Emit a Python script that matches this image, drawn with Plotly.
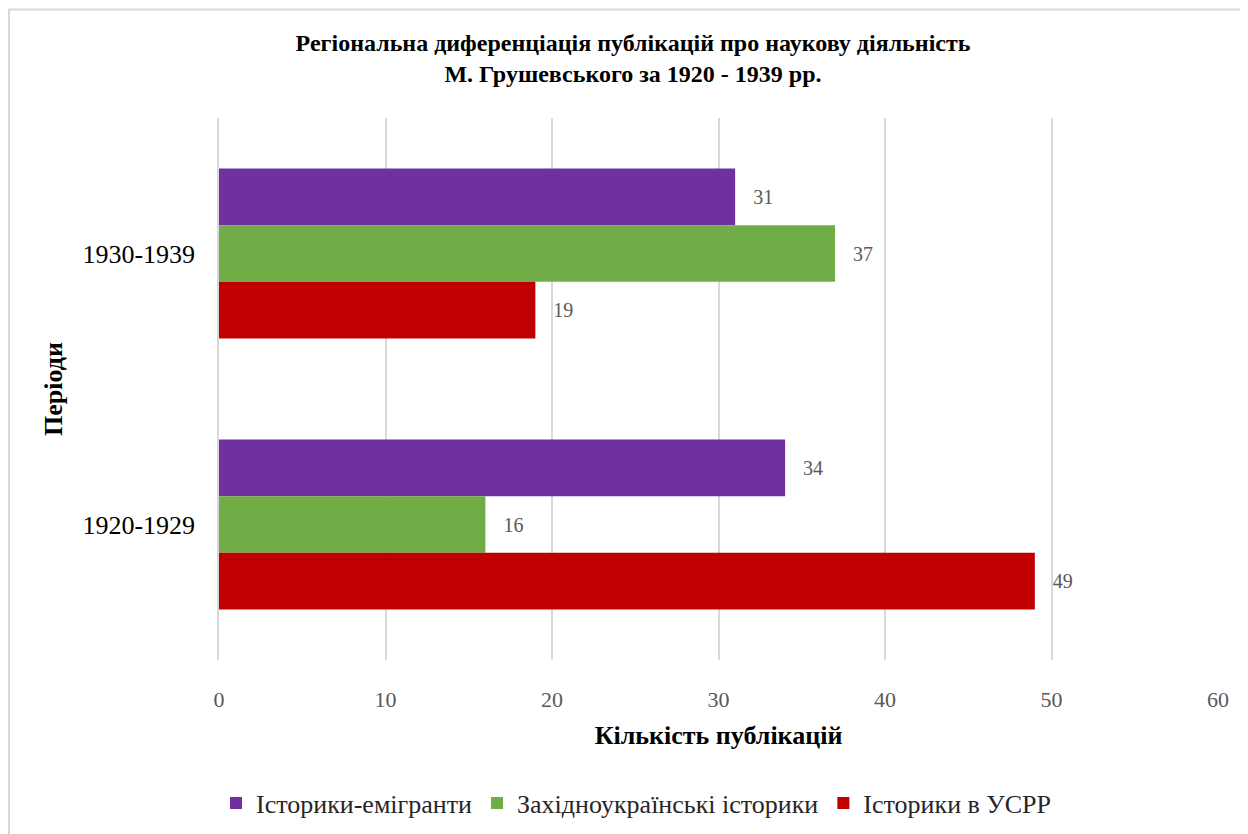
import plotly.graph_objects as go

periods = ["1930-1939", "1920-1929"]
series_names = ["Історики-емігранти", "Західноукраїнські історики", "Історики в УСРР"]
emigrants = [31, 34]
western = [37, 16]
ussr = [19, 49]

colors = ["#7030A0", "#70AD47", "#C00000"]
serif = "Liberation Serif, Times New Roman, serif"

W, H = 1248, 834
# page body adds an 8px offset, so everything is placed 8px up/left
ml, mr, mt, mb = 211, 38, 110, 182

fig = go.Figure()
for name, vals, col in zip(series_names, [emigrants, western, ussr], colors):
    fig.add_trace(go.Bar(
        y=periods, x=vals, name=name, orientation="h",
        marker=dict(color=col, line=dict(width=0)),
        texttemplate="   %{x}", textposition="outside", cliponaxis=False,
        textfont=dict(family=serif, size=20, color="#595959"),
    ))

# chart-area border (light gray), runs off the window on right/bottom
pw, ph = W - ml - mr, H - mt - mb
def px_x(p):
    return (p - ml) / pw
def px_y(p):
    return 1 - (p - mt) / ph

fig.add_shape(type="line", xref="paper", yref="paper",
              x0=px_x(1), x1=px_x(1300), y0=px_y(1.5), y1=px_y(1.5),
              line=dict(color="#D9D9D9", width=2))
fig.add_shape(type="line", xref="paper", yref="paper",
              x0=px_x(1), x1=px_x(1), y0=px_y(1), y1=px_y(900),
              line=dict(color="#D9D9D9", width=2))

fig.update_layout(
    width=W, height=H,
    margin=dict(l=ml, r=mr, t=mt, b=mb),
    paper_bgcolor="white", plot_bgcolor="white",
    barmode="group", bargap=0.373, bargroupgap=0,
    font=dict(family=serif, color="black"),
    title=dict(
        text="<b>Регіональна диференціація публікацій про наукову діяльність<br>М. Грушевського за 1920 - 1939 рр.</b>",
        x=625 / W, xref="container", xanchor="center",
        y=1 - 43 / H, yref="container", yanchor="top",
        font=dict(family=serif, size=24, color="black"),
    ),
    xaxis=dict(
        range=[0, 60], dtick=10, showgrid=True, gridcolor="#D9D9D9", gridwidth=1.5,
        zeroline=False, showline=False, ticks="",
        tickfont=dict(family=serif, size=22, color="#595959"),
        ticklabelstandoff=24,
        title=dict(text="<b>Кількість публікацій</b>", standoff=14,
                   font=dict(family=serif, size=26, color="black")),
    ),
    yaxis=dict(
        autorange="reversed", showline=True, linecolor="#D9D9D9", linewidth=1.5,
        ticks="", tickfont=dict(family=serif, size=26, color="black"),
        ticklabelstandoff=17,
        title=dict(text="<b>Періоди</b>", standoff=12,
                   font=dict(family=serif, size=26, color="black")),
    ),
    legend=dict(
        orientation="h", x=628 / W, xref="container", xanchor="center",
        y=1 - 795 / H, yref="container", yanchor="middle",
        font=dict(family=serif, size=26, color="#262626"),
        itemwidth=30, tracegroupgap=0,
    ),
    showlegend=True,
)

fig.write_html("out.html")
